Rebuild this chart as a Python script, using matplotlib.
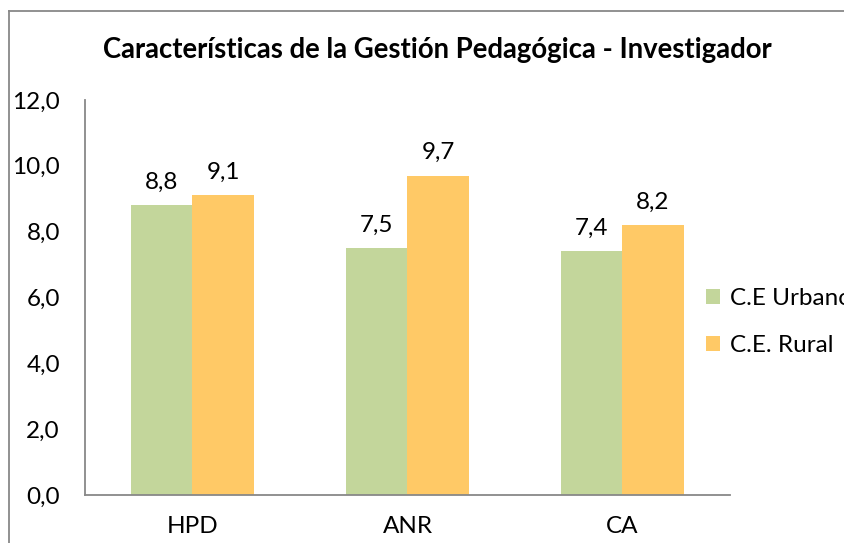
import numpy as np
import matplotlib.pyplot as plt
from matplotlib.lines import Line2D

categories = ["HPD", "ANR", "CA"]
urbano = [8.8, 7.5, 7.4]
rural = [9.1, 9.7, 8.2]
series_names = ["C.E Urbano", "C.E. Rural"]
yticks = [0, 2, 4, 6, 8, 10, 12]

plt.rcParams['font.family'] = ['Lato', 'DejaVu Sans']

W, H = 845, 543
fig = plt.figure(figsize=(W / 100, H / 100), dpi=100)
ax = fig.add_axes([85 / W, 1 - 495 / H, (730 - 85) / W, (495 - 100) / H])

x = np.arange(len(categories))
w = 0.284
b1 = ax.bar(x - w / 2, urbano, w, color="#C3D69B", label=series_names[0])
b2 = ax.bar(x + w / 2, rural, w, color="#FFC966", label=series_names[1])

fs = 17.5
for bars, vals in [(b1, urbano), (b2, rural)]:
    for bar, v in zip(bars, vals):
        ax.annotate(f"{v:.1f}".replace(".", ","),
                    (bar.get_x() + bar.get_width() / 2, v),
                    xytext=(0, 9), textcoords="offset points",
                    ha="center", va="bottom", fontsize=fs)

ax.set_xlim(-0.5, 2.5)
ax.set_ylim(0, 12)
ax.set_yticks(yticks)
ax.set_yticklabels([f"{t:.1f}".replace(".", ",") for t in yticks], fontsize=fs)
ax.set_xticks(x)
ax.set_xticklabels(categories, fontsize=fs)
ax.tick_params(length=0)
ax.tick_params(axis="y", pad=18)
ax.tick_params(axis="x", pad=15)
for s in ["top", "right"]:
    ax.spines[s].set_visible(False)
for s in ["left", "bottom"]:
    ax.spines[s].set_color("#888888")
    ax.spines[s].set_linewidth(1.3)

fig.text(437 / W, 1 - 50 / H, "Características de la Gestión Pedagógica - Investigador",
         ha="center", va="center", fontsize=19.8, fontweight="bold")

# legend runs off the right edge, as in the original
leg = fig.legend(loc="upper left", bbox_to_anchor=(684 / W, 1 - 266 / H),
                 frameon=False, fontsize=fs, handlelength=0.6, handleheight=0.6,
                 labelspacing=1.08, handletextpad=0.4)

# outer chart border (left and top edges visible)
fig.add_artist(Line2D([9 / W, 9 / W], [0, 1 - 11 / H], transform=fig.transFigure,
                      color="#888888", lw=1.3))
fig.add_artist(Line2D([9 / W, 1.01], [1 - 11 / H, 1 - 11 / H], transform=fig.transFigure,
                      color="#888888", lw=1.3))

fig.savefig("out.png", dpi=100)
